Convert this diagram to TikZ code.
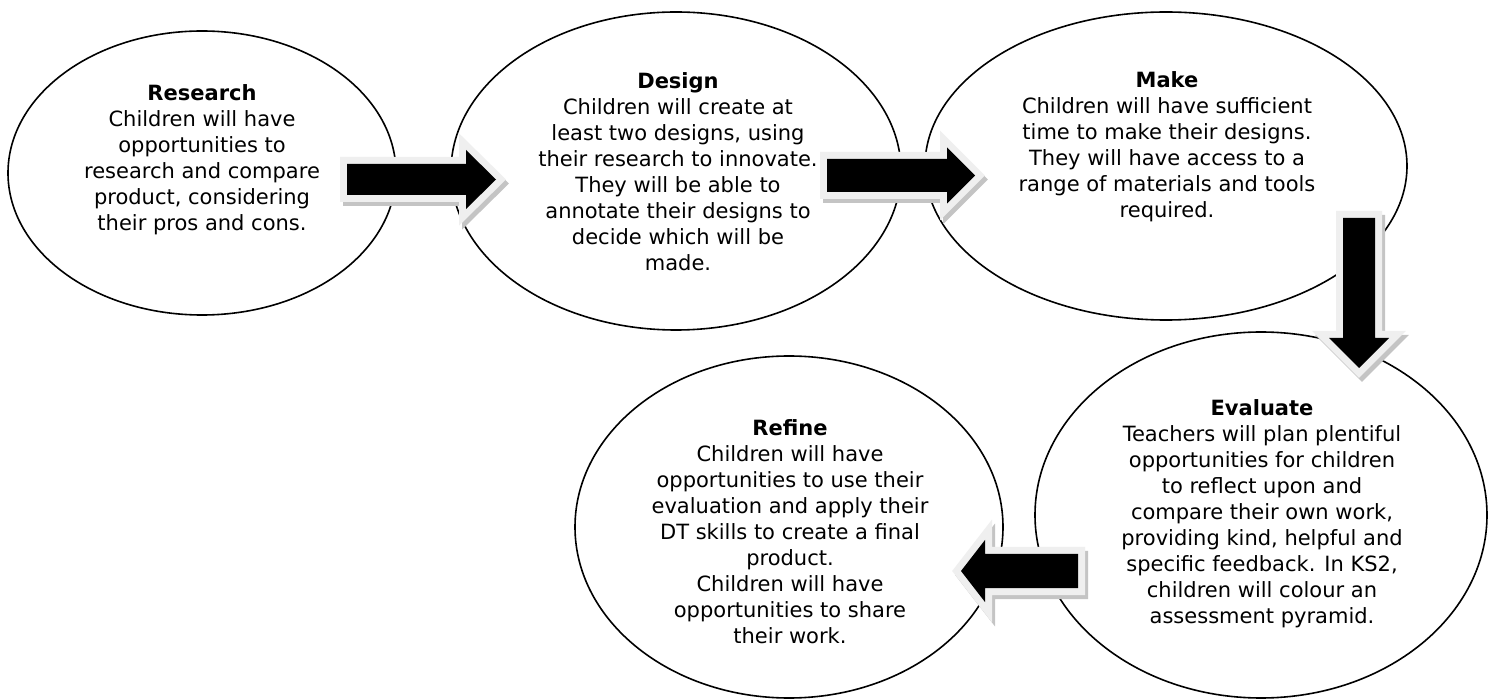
\documentclass[tikz,border=0pt]{standalone}
\usepackage{fontspec}
\setmainfont{DejaVu Sans}
\usetikzlibrary{shapes.geometric}
\definecolor{arrowborder}{HTML}{EFEFEF}
\definecolor{arrowshadow}{HTML}{C4C4C4}
\begin{document}
\begin{tikzpicture}[x=0.5pt,y=-0.5pt,
  stage/.style={ellipse,draw=black,line width=0.8pt,fill=white,inner sep=0pt},
  stagetext/.style={anchor=north,align=center,inner sep=0pt,font=\fontsize{10.5pt}{13pt}\selectfont},
  blkshadow/.style={draw=arrowshadow,fill=arrowshadow,line width=7pt,line join=miter},
  blkborder/.style={draw=arrowborder,line width=7pt,line join=miter},
  blkfill/.style={fill=black}
]
\useasboundingbox (0,0) rectangle (1496,700);
% ellipses
\node[stage,minimum width=194pt,minimum height=142pt] (research) at (202,173) {};
\node[stage,minimum width=225pt,minimum height=159pt] (design) at (676,171) {};
\node[stage,minimum width=241pt,minimum height=154pt] (make) at (1166,166) {};
\node[stage,minimum width=226pt,minimum height=183pt] (evaluate) at (1261,515) {};
\node[stage,minimum width=214pt,minimum height=171pt] (refine) at (789,527) {};
% texts
\node[stagetext] (researcht) at (202,84) {\textbf{Research}\\Children will have\\opportunities to\\research and compare\\product, considering\\their pros and cons.};
\node[stagetext] (designt) at (678,72) {\textbf{Design}\\Children will create at\\least two designs, using\\their research to innovate.\\They will be able to\\annotate their designs to\\decide which will be\\made.};
\node[stagetext] (maket) at (1167,71) {\textbf{Make}\\Children will have sufficient\\time to make their designs.\\They will have access to a\\range of materials and tools\\required.};
\node[stagetext] (evaluatet) at (1262,399) {\textbf{Evaluate}\\Teachers will plan plentiful\\opportunities for children\\to reflect upon and\\compare their own work,\\providing kind, helpful and\\specific feedback. In KS2,\\children will colour an\\assessment pyramid.};
\node[stagetext] (refinet) at (790,419) {\textbf{Refine}\\Children will have\\opportunities to use their\\evaluation and apply their\\DT skills to create a final\\product.\\Children will have\\opportunities to share\\their work.};
% block arrows: shadow, border, black fill
\def\arrowA{(347,164) -- (466,164) -- (466,150) -- (496,179.5) -- (466,209) -- (466,195) -- (347,195) -- cycle}
\def\arrowB{(827,159) -- (947,159) -- (947,147.5) -- (975,175.5) -- (947,203.5) -- (947,192) -- (827,192) -- cycle}
\def\arrowC{(1343,218) -- (1375,218) -- (1375,338) -- (1389,338) -- (1359,368) -- (1329,338) -- (1343,338) -- cycle}
\def\arrowD{(1078,554) -- (985,554) -- (985,540) -- (961,571) -- (985,602) -- (985,588) -- (1078,588) -- cycle}
\foreach \p in {\arrowA,\arrowB,\arrowC,\arrowD}{
  \begin{scope}[shift={(3,4)}]
    \path[blkshadow] \p;
  \end{scope}
  \path[blkborder] \p;
  \path[blkfill] \p;
}
\end{tikzpicture}
\end{document}
